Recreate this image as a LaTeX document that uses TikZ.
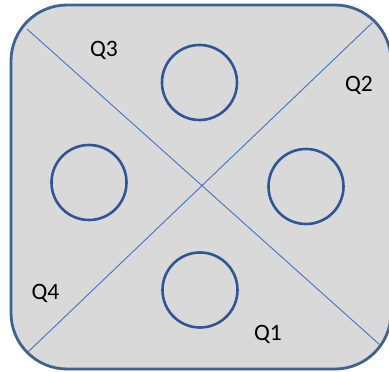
\documentclass[tikz,border=0pt]{standalone}
\usepackage{fontspec}
\setmainfont{Carlito}
\definecolor{boxfill}{HTML}{D9D9D9}
\definecolor{boxline}{HTML}{3F6290}
\definecolor{ringline}{HTML}{2F5597}
\definecolor{diagline}{HTML}{4472C4}
\begin{document}
\begin{tikzpicture}[x=1pt,y=-1pt,
  ring/.style={draw=ringline,line width=2.6pt,circle,minimum size=75pt,inner sep=0pt},
  qlabel/.style={font=\fontsize{23.5}{27}\selectfont,text=black,inner sep=0pt}]
\useasboundingbox (0,0) rectangle (389,372);
\draw[fill=boxfill,draw=boxline,line width=2.8pt,rounded corners=56pt] (11,5) rectangle (391,369);
\coordinate (tl) at (27,29);
\coordinate (br) at (380,345);
\coordinate (tr) at (372,23);
\coordinate (bl) at (28,352);
\draw[diagline,line width=0.9pt] (tl) -- (br);
\draw[diagline,line width=0.9pt] (tr) -- (bl);
\node[ring] (top) at (199.5,82.5) {};
\node[ring] (left) at (89,182.5) {};
\node[ring] (right) at (306,186.5) {};
\node[ring] (bottom) at (200,290) {};
\node[qlabel] (q3) at (104,50) {Q3};
\node[qlabel] (q2) at (359,85) {Q2};
\node[qlabel] (q4) at (45.5,293) {Q4};
\node[qlabel] (q1) at (268,334.5) {Q1};
\end{tikzpicture}
\end{document}
